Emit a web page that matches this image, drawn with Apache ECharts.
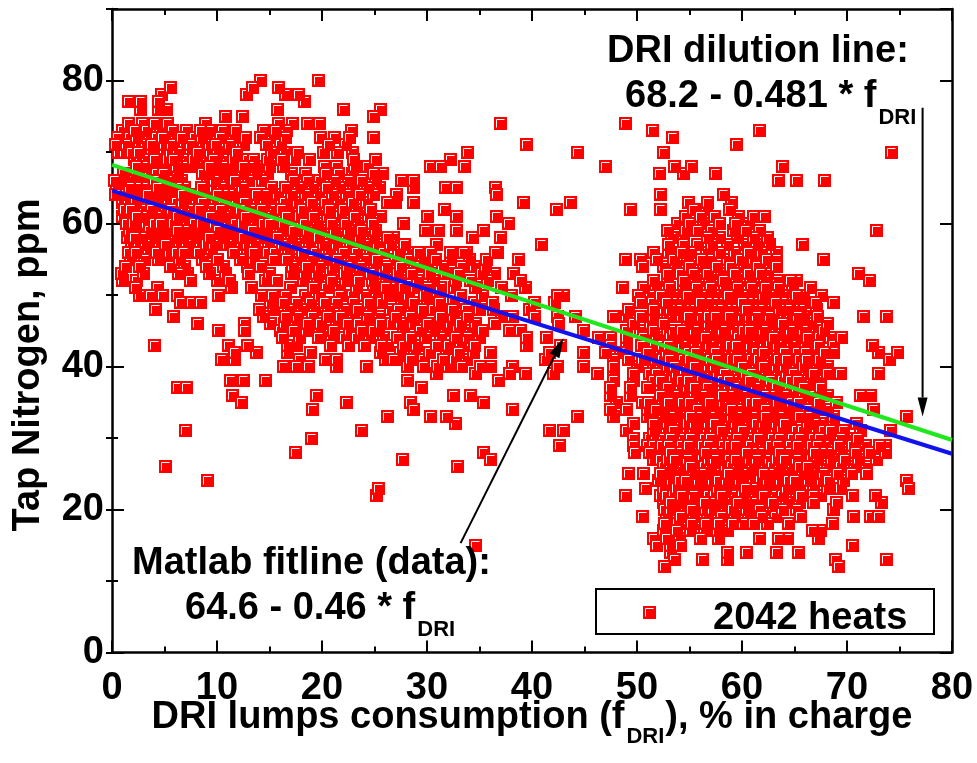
<!DOCTYPE html>
<html>
<head>
<meta charset="utf-8">
<script src="https://cdn.jsdelivr.net/npm/echarts@6/dist/echarts.min.js"></script>
<style>
  html, body { margin: 0; padding: 0; background: #ffffff; }
  #chart { width: 977px; height: 763px; }
</style>
</head>
<body>
<div id="chart"></div>
<script>
// Axis ranges and tick steps
const xRange = [0, 80];
const yRange = [0, 90];
const xStep = 10;
const yStep = 20;

// Tap nitrogen (ppm, whole numbers) per heat, grouped by ppm level: [ppm, [DRI % values]]
const leftHeats = [
  [80, [14.1, 19.7]],
  [79, [5.6, 13.4, 15.9]],
  [78, [4.7, 12.8, 16.5, 17.8]],
  [77, [1.6, 2.7, 4.4, 18.3]],
  [76, [2.7, 4.4, 5.2, 15.8, 22.0, 25.6]],
  [75, [10.8, 12.4, 24.9]],
  [74, [1.6, 2.9, 4.0, 5.3, 8.9, 15.9, 17.2, 18.6, 19.8]],
  [73, [1.0, 2.1, 3.3, 4.6, 5.8, 7.1, 8.4, 9.3, 10.5, 11.8, 14.4, 15.6, 16.6, 22.8]],
  [72, [0.5, 1.7, 2.9, 4.2, 5.3, 6.6, 7.9, 9.0, 10.3, 11.6, 12.7, 14.1, 15.3, 16.5, 19.9, 21.2, 22.6, 24.9]],
  [71, [0.3, 1.4, 2.6, 3.8, 5.0, 6.3, 7.5, 8.7, 9.9, 11.2, 12.5, 14.7, 16.0, 20.6, 22.2]],
  [70, [0.6, 1.9, 3.1, 4.4, 5.6, 6.9, 8.1, 9.4, 10.6, 11.9, 15.2, 16.4, 17.7, 20.1, 21.5, 22.9]],
  [69, [2.1, 3.3, 4.6, 5.9, 7.2, 8.5, 9.7, 11.0, 12.3, 13.5, 14.8, 16.1, 17.4, 18.8, 23.0, 25.1]],
  [68, [2.3, 3.6, 4.8, 6.1, 7.4, 8.7, 9.9, 11.2, 12.5, 13.8, 15.0, 16.3, 20.2, 21.4, 23.1, 24.3]],
  [67, [1.1, 2.3, 3.6, 4.9, 6.2, 8.6, 9.9, 11.1, 12.4, 13.7, 14.8, 17.1, 18.4, 20.3, 21.6, 22.9, 24.9, 25.8]],
  [66, [0.2, 1.4, 2.7, 4.0, 5.3, 6.6, 9.1, 10.4, 11.7, 13.0, 14.3, 17.3, 18.6, 19.8, 21.2, 22.5, 23.8, 25.1]],
  [65, [0.4, 1.7, 3.0, 4.3, 5.6, 6.9, 8.5, 9.8, 11.1, 12.4, 15.2, 16.5, 17.8, 19.1, 20.4, 21.7, 23.0, 24.3, 25.5]],
  [64, [0.3, 1.5, 2.8, 4.1, 5.4, 6.7, 8.0, 9.3, 10.6, 11.9, 13.2, 14.5, 15.8, 17.1, 18.4, 19.7, 21.0, 22.3, 23.6, 24.9]],
  [63, [1.0, 2.2, 3.5, 4.8, 6.1, 7.4, 8.6, 9.9, 11.3, 12.6, 13.9, 15.1, 16.4, 17.7, 19.0, 20.3, 21.6, 22.9, 24.2, 26.2]],
  [62, [1.2, 2.5, 3.8, 5.1, 6.4, 7.7, 9.0, 10.3, 11.6, 12.9, 14.2, 15.5, 16.8, 18.1, 19.4, 20.7, 22.0, 23.3, 24.6]],
  [61, [1.0, 2.3, 3.6, 4.9, 6.2, 7.5, 8.8, 10.1, 11.4, 12.7, 14.0, 15.3, 16.6, 17.9, 19.2, 20.5, 21.8, 23.1, 24.4, 25.6]],
  [60, [1.4, 2.7, 4.0, 5.3, 6.6, 7.9, 9.2, 10.5, 11.8, 13.1, 14.4, 15.7, 17.0, 18.3, 19.6, 20.9, 22.2, 23.5, 24.8]],
  [59, [1.7, 3.0, 4.3, 5.6, 6.9, 8.2, 9.5, 10.8, 12.1, 13.4, 14.7, 16.0, 17.3, 18.6, 19.9, 21.2, 22.5, 23.8, 25.1]],
  [58, [1.5, 2.8, 4.1, 5.4, 6.7, 8.0, 9.3, 10.6, 11.9, 13.2, 14.5, 15.8, 17.1, 18.4, 19.7, 21.0, 22.3, 23.6, 24.9, 26.2, 26.8]],
  [57, [1.9, 3.2, 4.5, 5.8, 7.1, 8.4, 9.7, 11.0, 12.3, 13.6, 14.9, 16.2, 17.5, 18.8, 20.1, 21.4, 22.7, 24.0, 25.3, 26.5]],
  [56, [1.6, 2.9, 4.2, 5.5, 6.8, 8.2, 9.5, 11.6, 12.9, 14.2, 15.5, 16.8, 18.1, 19.4, 20.7, 22.0, 23.3, 24.6, 25.9]],
  [55, [1.8, 3.1, 4.4, 5.2, 6.4, 8.6, 10.0, 12.2, 13.5, 15.4, 16.6, 17.8, 19.0, 20.2, 21.5, 22.8, 24.0, 25.2]],
  [54, [1.3, 2.6, 5.6, 6.9, 9.0, 10.6, 12.9, 14.1, 17.2, 18.5, 19.8, 21.1, 22.4, 23.7, 25.0, 26.1]],
  [53, [0.9, 3.0, 6.3, 7.2, 9.3, 10.8, 13.0, 15.0, 17.1, 18.3, 19.5, 20.8, 22.1, 23.4, 24.6, 25.9]],
  [52, [1.0, 2.3, 7.5, 10.0, 11.2, 14.6, 15.7, 18.2, 19.6, 20.9, 22.2, 23.5, 24.8, 26.1]],
  [51, [2.2, 4.3, 11.4, 13.3, 17.0, 19.2, 20.4, 21.7, 23.3, 24.9, 26.0, 26.5]],
  [50, [2.6, 3.7, 4.8, 6.2, 10.1, 14.2, 15.3, 16.5, 18.4, 19.8, 21.7, 22.9, 24.0, 25.2, 26.2]],
  [49, [6.5, 7.6, 8.4, 15.1, 16.3, 17.6, 18.9, 20.2, 21.4, 23.0, 24.4, 25.7]],
  [48, [4.1, 14.0, 15.4, 16.8, 18.0, 19.3, 20.6, 22.1, 23.4, 24.6, 26.5]],
  [47, [5.9, 14.4, 16.5, 17.7, 19.1, 20.5, 21.8, 23.0, 24.3, 25.5]],
  [46, [8.1, 12.6, 15.1, 16.4, 17.5, 18.6, 19.9, 21.4, 22.4, 23.5, 24.3, 25.6, 26.6]],
  [45, [10.1, 12.6, 16.0, 17.3, 18.5, 19.8, 21.1, 22.6, 23.8, 24.9, 25.4]],
  [44, [16.2, 17.9, 19.7, 20.9, 22.1, 23.3, 24.5, 25.9]],
  [43, [4.0, 11.1, 12.9, 16.7, 17.6, 20.8, 22.5, 24.0, 25.7, 26.2]],
  [42, [11.7, 13.8, 16.7, 18.9, 25.6]],
  [41, [10.4, 11.7, 17.9, 20.3, 21.4, 26.0, 26.8]],
  [40, [16.3, 17.6, 18.7, 21.4, 24.2]],
  [38, [11.3, 12.5, 14.6]],
  [37, [6.2, 7.1]],
  [36, [11.5, 19.5]],
  [35, [12.3, 22.3]],
  [34, [19.1]],
  [33, [26.2]],
  [31, [7.0, 23.8]],
  [30, [19.0]],
  [28, [17.5]],
  [26, [5.1]],
  [24, [9.1]],
  [23, [25.4]],
  [22, [25.2]]
];

// densest part of the low-DRI group
const leftCoreHeats = [
  [72, [1.1, 2.3, 3.6, 4.8, 6.0, 7.3, 8.5]],
  [71, [0.9, 2.0, 3.2, 4.4, 5.7, 6.9, 8.1, 9.3]],
  [70, [1.2, 2.5, 3.8, 5.0, 6.2, 7.5, 8.8, 10.0]],
  [69, [2.7, 4.0, 5.3, 6.5, 7.8, 9.1, 10.4, 11.6, 12.9]],
  [68, [3.0, 4.2, 5.5, 6.8, 8.0, 9.3, 10.6, 11.8, 13.1]],
  [67, [1.7, 3.0, 4.2, 5.5, 9.2, 10.5, 11.8]],
  [66, [0.8, 2.0, 3.3, 4.6, 5.9, 9.8, 11.0]],
  [65, [1.0, 2.3, 3.6, 4.9, 6.2, 9.1, 10.4, 16.8, 18.4]],
  [64, [0.9, 2.1, 3.4, 4.7, 6.0, 7.4, 8.6, 10.0, 11.2, 12.6, 13.8]],
  [63, [1.6, 2.9, 4.1, 5.4, 6.7, 8.0, 9.2, 10.6, 11.9, 13.2, 14.5, 17.0]],
  [62, [1.8, 3.1, 4.4, 5.7, 7.0, 8.3, 9.6, 10.9, 12.2, 13.5, 14.8, 16.1]],
  [61, [1.6, 2.9, 4.2, 5.5, 6.8, 8.1, 9.4, 10.7, 12.0, 13.3, 14.6, 18.5]],
  [60, [2.0, 3.3, 4.6, 5.9, 7.2, 8.5, 9.8, 11.1, 12.4, 13.7, 15.0, 16.3]],
  [59, [2.3, 3.6, 4.9, 6.2, 7.5, 8.8, 10.1, 11.4, 12.7, 14.0, 17.9]],
  [58, [2.1, 3.4, 4.7, 6.0, 7.3, 8.6, 9.9, 11.2, 12.5, 13.8, 15.1]],
  [57, [2.5, 3.8, 5.1, 6.4, 7.7, 9.0, 10.3, 11.6, 12.9, 16.8]],
  [56, [2.2, 3.5, 4.8, 6.1, 7.5, 13.5, 14.8]]
];

const middleHeats = [
  [74, [37.0]],
  [71, [39.5]],
  [70, [33.9, 44.3]],
  [69, [32.2]],
  [68, [30.3, 31.3, 33.6]],
  [66, [27.6, 28.7]],
  [65, [28.7, 31.8, 32.8, 36.5]],
  [64, [27.1, 36.6]],
  [63, [27.0, 28.7, 39.2, 43.7]],
  [62, [31.7, 42.3]],
  [61, [30.0, 32.8, 36.6]],
  [60, [27.8, 37.8]],
  [59, [29.9, 31.1, 32.8, 35.4]],
  [58, [34.3, 37.0]],
  [57, [27.9, 30.9, 40.9]],
  [56, [27.3, 28.4, 29.2, 30.3, 32.2, 33.5, 33.8, 36.5, 36.7]],
  [55, [27.0, 28.3, 29.6, 30.8, 32.2, 34.0, 35.7, 38.7]],
  [54, [27.5, 28.8, 30.0, 31.5, 33.3, 34.5, 35.6]],
  [53, [27.2, 28.5, 30.2, 31.8, 33.0, 35.2, 36.4, 38.2]],
  [52, [27.5, 29.1, 30.6, 32.7, 34.1, 35.8, 38.9]],
  [51, [27.8, 28.9, 30.0, 31.3, 32.6, 34.6, 37.1, 39.4]],
  [50, [27.0, 28.2, 29.8, 31.0, 33.2, 35.3, 38.0, 42.4, 43.0]],
  [49, [27.6, 28.7, 30.0, 31.2, 32.5, 34.5, 36.2, 40.2, 42.1]],
  [48, [27.3, 28.5, 29.6, 30.6, 31.3, 32.4, 33.8, 35.0, 36.3, 39.8]],
  [47, [27.0, 28.4, 29.4, 31.3, 32.5, 33.9, 37.1, 38.1, 40.2, 42.4, 44.1]],
  [46, [27.5, 28.7, 30.0, 31.0, 32.2, 33.2, 34.6, 36.4, 42.5]],
  [45, [27.8, 29.4, 30.6, 31.8, 32.9, 34.1, 35.3, 37.9, 38.9, 44.9]],
  [44, [27.2, 28.4, 29.9, 31.3, 32.7, 33.9, 35.0, 39.5, 41.4, 46.3]],
  [43, [27.8, 29.0, 30.9, 32.0, 33.2, 34.5, 39.5, 42.7]],
  [42, [27.5, 28.8, 30.2, 31.9, 33.0, 34.4, 36.0, 41.7, 44.9]],
  [41, [27.3, 28.4, 29.7, 31.6, 32.6, 33.8, 41.3]],
  [40, [28.1, 29.7, 31.0, 32.0, 33.3, 35.1, 36.0, 38.1, 42.4, 44.9]],
  [39, [30.9, 34.6, 37.9, 39.4, 42.0]],
  [38, [28.1, 36.8]],
  [37, [29.5]],
  [36, [32.5, 34.1]],
  [35, [28.4, 35.4]],
  [34, [28.7, 38.1]],
  [33, [30.3, 31.9, 44.3]],
  [32, [32.7]],
  [31, [41.7, 43.0]],
  [29, [42.6]],
  [28, [35.4]],
  [27, [27.7, 36.0]],
  [26, [32.9]],
  [15, [34.6]]
];

const rightHeats = [
  [74, [48.9]],
  [73, [51.5, 61.7]],
  [72, [53.4]],
  [71, [59.5]],
  [70, [52.5, 74.2]],
  [68, [47.0, 53.6, 55.2, 63.9]],
  [67, [52.1, 54.4, 57.5]],
  [66, [63.5, 65.2, 67.9]],
  [64, [52.2, 58.2]],
  [63, [54.9, 56.7, 59.0]],
  [62, [49.4, 52.2, 55.4, 56.6, 58.8]],
  [61, [54.6, 56.0, 57.4, 59.7, 61.1, 62.1]],
  [60, [53.9, 55.0, 56.3, 57.9, 59.4, 60.6]],
  [59, [52.9, 54.6, 55.8, 57.1, 59.2, 60.3, 61.7, 72.8]],
  [58, [53.3, 54.4, 56.7, 57.9, 59.6, 61.1, 62.4]],
  [57, [53.0, 54.4, 55.8, 57.1, 58.6, 60.2, 61.4, 62.6, 65.8]],
  [56, [51.6, 53.0, 54.2, 55.1, 56.6, 57.9, 59.3, 60.6, 61.9, 63.3]],
  [55, [48.9, 50.3, 51.9, 53.5, 54.8, 56.1, 57.0, 58.6, 59.9, 61.1, 62.3, 63.3, 67.8]],
  [54, [50.5, 52.5, 53.7, 55.0, 56.3, 57.6, 58.9, 60.2, 61.5, 62.7, 63.3]],
  [53, [52.9, 54.1, 55.4, 56.7, 58.0, 59.3, 60.6, 61.8, 62.4, 71.1]],
  [52, [51.6, 52.9, 54.4, 55.6, 56.9, 58.2, 59.5, 60.8, 62.1, 63.4, 64.6, 65.2, 72.1]],
  [51, [48.6, 50.6, 51.8, 53.1, 54.4, 55.7, 57.0, 58.3, 59.6, 60.9, 62.2, 63.5, 64.8, 66.5]],
  [50, [50.1, 51.3, 52.2, 53.5, 54.8, 56.1, 57.4, 58.7, 60.0, 61.3, 62.6, 63.9, 65.2, 65.9, 67.6]],
  [49, [50.3, 51.5, 52.8, 54.1, 55.4, 56.7, 58.0, 59.3, 60.6, 61.9, 63.2, 64.5, 65.8, 67.0, 68.7]],
  [48, [49.2, 51.6, 52.6, 53.9, 55.2, 56.5, 57.8, 59.1, 60.4, 61.7, 63.0, 64.3, 65.6, 67.1]],
  [47, [47.8, 49.0, 50.3, 51.6, 52.9, 54.2, 55.5, 56.8, 58.1, 59.4, 60.7, 62.0, 63.3, 64.6, 65.9, 67.2, 71.6, 73.8]],
  [46, [49.7, 51.3, 52.5, 54.8, 56.1, 57.4, 58.7, 60.0, 61.3, 62.6, 63.9, 65.2, 66.5, 68.1]],
  [45, [49.0, 50.3, 51.6, 52.9, 54.2, 55.5, 56.8, 58.1, 59.4, 60.7, 62.0, 63.3, 64.6, 65.9, 67.1, 67.8]],
  [44, [47.5, 49.0, 50.6, 51.9, 53.2, 54.5, 55.8, 57.1, 58.4, 59.7, 61.0, 62.3, 63.6, 64.9, 66.2, 67.4, 68.4, 69.5]],
  [43, [47.5, 49.0, 50.4, 51.7, 53.0, 54.3, 55.6, 56.9, 58.2, 59.5, 60.8, 62.1, 63.4, 64.7, 66.0, 67.3, 68.7, 72.4]],
  [42, [47.0, 48.4, 51.0, 52.2, 53.6, 54.9, 56.2, 57.5, 58.8, 60.1, 61.4, 62.7, 64.0, 65.3, 66.6, 67.9, 68.7, 73.0, 74.8]],
  [41, [47.8, 49.2, 50.5, 51.8, 53.1, 54.4, 55.7, 57.0, 58.3, 59.6, 60.9, 62.2, 63.5, 64.8, 66.1, 67.4, 74.0]],
  [40, [47.8, 50.0, 51.6, 52.9, 54.2, 55.5, 56.8, 58.1, 59.4, 60.7, 62.0, 63.3, 64.6, 65.9, 67.2, 68.1]],
  [39, [46.2, 47.8, 49.7, 51.2, 52.5, 53.8, 55.1, 56.4, 57.7, 59.0, 60.3, 61.6, 62.9, 64.2, 65.5, 66.8, 68.1, 69.4, 73.0]],
  [38, [47.8, 49.7, 51.6, 52.9, 54.2, 55.5, 56.8, 58.1, 59.4, 60.7, 62.0, 63.3, 64.6, 65.9, 67.5]],
  [37, [47.5, 49.4, 51.0, 52.2, 53.5, 54.8, 56.1, 57.4, 58.7, 60.0, 61.3, 62.6, 63.9, 65.2, 66.5, 67.5]],
  [36, [47.5, 49.4, 52.2, 53.6, 54.9, 56.2, 57.5, 58.8, 60.1, 61.4, 62.7, 64.0, 65.3, 66.6, 68.1, 71.3, 72.2]],
  [35, [48.0, 50.5, 51.7, 53.0, 54.3, 55.6, 56.9, 58.2, 59.5, 60.8, 62.1, 63.4, 64.7, 66.0, 67.3, 69.0]],
  [34, [47.5, 49.0, 51.0, 52.5, 53.8, 55.1, 56.4, 57.7, 59.0, 60.3, 61.6, 62.9, 64.2, 65.5, 66.8, 68.1, 72.5]],
  [33, [47.8, 51.0, 52.5, 53.8, 55.1, 56.4, 57.7, 59.0, 60.3, 61.6, 62.9, 64.2, 65.5, 66.8, 68.7, 75.7]],
  [32, [49.7, 51.6, 52.9, 54.2, 55.5, 56.8, 58.1, 59.4, 60.7, 62.0, 63.3, 64.6, 66.2, 67.5, 68.7, 70.9]],
  [31, [49.0, 51.6, 52.8, 54.1, 55.4, 56.7, 58.0, 59.3, 60.6, 61.9, 63.2, 64.5, 65.8, 67.1, 68.4, 69.7, 71.3, 74.1]],
  [30, [49.7, 51.2, 52.5, 53.8, 55.1, 56.4, 57.7, 59.0, 60.3, 61.6, 62.9, 64.2, 65.5, 66.8, 68.1, 69.4, 70.0, 71.0]],
  [29, [49.7, 51.0, 52.3, 53.6, 54.9, 56.2, 57.5, 58.8, 60.1, 61.4, 62.7, 64.0, 65.3, 66.6, 67.9, 69.2, 70.5, 71.8, 73.1, 73.7]],
  [28, [49.8, 51.2, 52.6, 53.9, 55.2, 56.5, 57.8, 59.1, 60.4, 61.7, 63.0, 64.3, 65.6, 66.9, 68.2, 69.5, 70.8, 72.1, 72.5, 73.7]],
  [27, [51.6, 52.9, 54.2, 55.5, 56.8, 58.1, 59.4, 60.7, 62.0, 63.3, 64.6, 65.9, 67.2, 68.5, 69.8, 71.1, 72.8]],
  [26, [52.5, 53.8, 55.1, 56.4, 57.7, 59.0, 60.3, 61.6, 62.9, 64.2, 65.5, 66.8, 68.1, 69.4, 70.7, 71.9]],
  [25, [49.2, 50.6, 52.2, 53.5, 54.8, 56.1, 57.4, 58.7, 60.0, 61.3, 62.6, 63.9, 65.2, 66.5, 67.8, 69.1, 70.4, 71.9]],
  [24, [52.0, 53.3, 54.6, 55.9, 57.2, 58.5, 59.8, 61.1, 62.4, 63.7, 65.0, 66.3, 67.6, 68.2, 69.7, 75.7]],
  [23, [50.8, 52.5, 53.8, 55.1, 56.4, 57.7, 59.0, 60.3, 61.6, 62.9, 64.2, 65.5, 66.8, 68.1, 69.4, 75.9]],
  [22, [48.9, 52.2, 53.5, 54.8, 56.1, 57.4, 58.7, 60.0, 61.3, 62.6, 63.9, 65.2, 65.6, 66.8, 67.5, 70.5, 72.7]],
  [21, [52.5, 53.8, 55.1, 56.4, 57.7, 59.0, 60.3, 61.6, 62.9, 64.2, 65.5, 66.8, 69.0, 73.3]],
  [20, [52.6, 53.9, 55.2, 56.5, 57.8, 59.1, 60.4, 60.8, 61.7, 63.0, 63.9, 65.2, 68.7]],
  [19, [50.5, 52.8, 54.1, 55.4, 56.7, 58.0, 59.3, 60.6, 61.9, 63.2, 65.6, 70.6, 72.2, 73.0]],
  [18, [52.6, 53.9, 55.2, 56.5, 57.8, 59.1, 60.1, 61.1, 62.4, 64.4, 68.6]],
  [17, [52.5, 53.8, 55.1, 56.4, 57.7, 58.6, 66.7, 67.5]],
  [16, [51.6, 52.8, 54.0, 56.0, 57.8, 61.7, 63.5, 64.3, 67.3]],
  [15, [51.9, 53.2, 54.1, 70.5]],
  [14, [53.2, 58.6, 60.4, 63.3, 65.4]],
  [13, [53.6, 56.2, 58.6, 68.9, 73.8]],
  [12, [52.6, 69.2]]
];

// densest part of the high-DRI group
const rightCoreHeats = [
  [50, [53.0, 54.2, 55.5, 56.7, 58.0, 59.4, 60.6, 62.0, 63.2, 64.5]],
  [49, [53.4, 54.8, 56.0, 57.3, 58.6, 60.0, 61.2, 62.5, 63.9, 65.1]],
  [48, [53.2, 54.5, 55.9, 57.1, 58.5, 59.7, 61.0, 62.4, 63.6, 64.9]],
  [47, [53.5, 54.9, 56.1, 57.5, 58.8, 60.0, 61.4, 62.6, 64.0, 65.3]],
  [46, [55.4, 56.8, 58.0, 59.3, 60.7, 61.9, 63.2, 64.6, 65.8]],
  [45, [53.5, 54.8, 56.2, 57.4, 58.8, 60.1, 61.3, 62.7, 63.9, 65.3]],
  [44, [52.6, 53.9, 55.1, 56.5, 57.8, 59.0, 60.4, 61.6, 63.0, 64.2, 65.6]],
  [43, [52.4, 53.6, 55.0, 56.3, 57.5, 58.9, 60.1, 61.5, 62.7, 64.1, 65.4]],
  [42, [52.8, 54.3, 55.6, 56.8, 58.2, 59.4, 60.8, 62.0, 63.4, 64.6, 66.0]],
  [41, [52.4, 53.8, 55.0, 56.4, 57.6, 59.0, 60.2, 61.6, 62.8, 64.2, 65.5]],
  [40, [52.2, 53.6, 54.8, 56.2, 57.4, 58.8, 60.0, 61.4, 62.6, 64.0, 65.2, 66.6]],
  [39, [51.9, 53.1, 54.5, 55.7, 57.1, 58.3, 59.7, 60.9, 62.3, 63.5, 64.9, 66.1, 67.4]],
  [38, [52.2, 53.5, 54.9, 56.1, 57.5, 58.7, 60.1, 61.3, 62.7, 63.9, 65.3, 66.6]],
  [37, [51.6, 52.9, 54.1, 55.5, 56.7, 58.1, 59.3, 60.7, 61.9, 63.3, 64.5, 65.9]],
  [36, [52.9, 54.2, 55.5, 56.9, 58.1, 59.5, 60.7, 62.1, 63.3, 64.7, 65.9, 67.3]],
  [35, [51.1, 52.4, 53.6, 55.0, 56.2, 57.6, 58.8, 60.2, 61.4, 62.8, 64.0, 65.4, 66.6]],
  [34, [51.8, 53.2, 54.4, 55.8, 57.0, 58.4, 59.6, 61.0, 62.2, 63.6, 64.8, 66.2, 67.4]],
  [33, [51.8, 53.2, 54.4, 55.8, 57.0, 58.4, 59.6, 61.0, 62.2, 63.6, 64.8, 66.2]],
  [32, [52.2, 53.6, 54.8, 56.2, 57.4, 58.8, 60.0, 61.4, 62.6, 64.0, 66.9]],
  [31, [52.2, 53.5, 54.8, 56.1, 57.4, 58.6, 60.0, 61.2, 62.6, 63.8, 65.2, 66.4, 67.8]],
  [30, [51.8, 53.2, 54.4, 55.8, 57.0, 58.4, 59.6, 61.0, 62.2, 63.6, 64.8, 66.2, 67.4]],
  [29, [51.6, 53.0, 54.2, 55.6, 56.8, 58.2, 59.4, 60.8, 62.0, 63.4, 64.6, 66.0, 67.2]],
  [28, [51.9, 53.2, 54.6, 55.8, 57.2, 58.4, 59.8, 61.0, 62.4, 63.6, 65.0, 66.2, 67.6]],
  [27, [52.2, 53.6, 54.8, 56.2, 57.4, 58.8, 60.0, 61.4, 62.6, 64.0, 65.2, 66.6]],
  [26, [53.2, 54.4, 55.8, 57.0, 58.4, 59.6, 61.0, 62.2, 63.6, 64.8, 66.2]],
  [25, [52.8, 54.2, 55.4, 56.8, 58.0, 59.4, 60.6, 62.0, 63.2, 64.6, 65.8]],
  [24, [52.6, 54.0, 55.2, 56.6, 57.8, 59.2, 60.4, 61.8, 63.0, 64.4, 65.6]],
  [23, [53.2, 54.4, 55.8, 57.0, 58.4, 59.6, 61.0, 62.2, 63.6, 64.8]],
  [22, [52.8, 54.2, 55.4, 56.8, 58.0, 59.4, 60.6, 62.0, 63.2]],
  [21, [53.2, 54.4, 55.8, 57.0, 58.4, 59.6, 61.0, 62.2]],
  [20, [53.2, 54.6, 55.8, 57.2, 58.4]]
];

// Trend lines: value at f = 0 and f = 80 of each equation
const dilutionLine = [[0, 68.2], [80, 29.72]];   // 68.2 - 0.481 * f
const fitLine = [[0, 64.6], [80, 27.8]];         // 64.6 - 0.46 * f

// Annotation arrows in data units: [tail, head]
const dilutionArrow = [[77.2, 76.2], [77.2, 33.0]];
const fitArrow = [[33.2, 15.3], [43.0, 44.0]];

const legendLabel = '2042 heats';

// ---------------------------------------------------------------------------
const FONT = '"Liberation Sans", Arial, Helvetica, sans-serif';
const MARK = 13;
const RED = '#ff0000';

// one point per heat, painted in an interleaved (not row-by-row) order
const heats = [];
[leftHeats, leftCoreHeats, middleHeats, rightHeats, rightCoreHeats].forEach(rows => {
  rows.forEach(([ppm, fs]) => fs.forEach(f => heats.push([f, ppm])));
});
const paintOrder = heats.map((p, i) => [(i * 0.6180339887) % 1, p]);
paintOrder.sort((a, b) => a[0] - b[0]);
const heatData = paintOrder.map(d => d[1]);

function markerParts(cx, cy) {
  const x0 = Math.round(cx - MARK / 2);
  const y0 = Math.round(cy - MARK / 2);
  return [
    { type: 'rect', shape: { x: x0, y: y0, width: MARK, height: MARK }, style: { fill: RED } },
    {
      type: 'polyline',
      shape: { points: [[x0 + 2.5, y0 + MARK - 2.5], [x0 + 2.5, y0 + 2.5], [x0 + MARK - 2.5, y0 + 2.5]] },
      style: { stroke: '#ffffff', lineWidth: 1, fill: null }
    }
  ];
}

function renderHeat(params, api) {
  const c = api.coord([api.value(0), api.value(1)]);
  return { type: 'group', children: markerParts(c[0], c[1]) };
}

const axisLine = { show: true, onZero: false, lineStyle: { color: '#000', width: 2.5 } };
const tickStyle = { color: '#000', width: 2 };
const labelStyle = { color: '#000', fontSize: 38, fontWeight: 'bold', fontFamily: FONT };

function xAxisDef(position, showLabels) {
  return {
    type: 'value', position, min: xRange[0], max: xRange[1], interval: xStep,
    axisLine,
    axisTick: { show: true, inside: true, length: 12, lineStyle: tickStyle },
    minorTick: { show: true, splitNumber: 2, length: 6, lineStyle: tickStyle },
    axisLabel: showLabels ? Object.assign({ margin: 17 }, labelStyle) : { show: false },
    splitLine: { show: false }, minorSplitLine: { show: false }
  };
}

function yAxisDef(position, interval, tickLen, showLine, showLabels) {
  return {
    type: 'value', position, min: yRange[0], max: yRange[1], interval,
    axisLine: showLine ? axisLine : { show: false },
    axisTick: { show: true, inside: true, length: tickLen, lineStyle: tickStyle },
    axisLabel: showLabels ? Object.assign({ margin: 8, showMaxLabel: false }, labelStyle) : { show: false },
    splitLine: { show: false }
  };
}

const chart = echarts.init(document.getElementById('chart'), null, { renderer: 'canvas' });

chart.setOption({
  animation: false,
  backgroundColor: '#ffffff',
  grid: { left: 112, right: 25, top: 9, bottom: 110.5, containLabel: false },
  xAxis: [xAxisDef('bottom', true), xAxisDef('top', false)],
  yAxis: [
    yAxisDef('left', yStep, 12, true, true),
    yAxisDef('left', yStep / 2, 6, false, false),
    yAxisDef('right', yStep, 12, true, false),
    yAxisDef('right', yStep / 2, 6, false, false)
  ],
  series: [
    {
      type: 'custom', name: legendLabel, data: heatData, renderItem: renderHeat,
      xAxisIndex: 0, yAxisIndex: 0, clip: false, progressive: 0, z: 2
    },
    {
      type: 'line', name: 'DRI dilution line', data: dilutionLine, symbol: 'none',
      xAxisIndex: 0, yAxisIndex: 0, lineStyle: { color: '#1fe81f', width: 4 }, z: 3
    },
    {
      type: 'line', name: 'Matlab fitline', data: fitLine, symbol: 'none',
      xAxisIndex: 0, yAxisIndex: 0, lineStyle: { color: '#1212ee', width: 4 }, z: 3
    }
  ]
});

// ---- text, arrows and legend box ----
const ctx = document.createElement('canvas').getContext('2d');
function measure(text, size) {
  ctx.font = `bold ${size}px ${FONT}`;
  return ctx.measureText(text).width;
}
function textEl(text, x, y, size, extra) {
  return Object.assign({
    type: 'text', x, y, z: 20,
    style: { text, fill: '#000', font: `bold ${size}px ${FONT}`, align: 'left', verticalAlign: 'middle' }
  }, extra || {});
}
// main text followed by a lowered subscript, optionally followed by more main text
function withSub(main, sub, tail, left, mid, size, subSize, drop) {
  const w1 = measure(main, size);
  const ws = measure(sub, subSize);
  const els = [textEl(main, left, mid, size), textEl(sub, left + w1 + 2, mid + drop, subSize)];
  if (tail) els.push(textEl(tail, left + w1 + 2 + ws + 1, mid, size));
  return els;
}
function subWidth(main, sub, tail, size, subSize) {
  return measure(main, size) + 2 + measure(sub, subSize) + 1 + (tail ? measure(tail, size) : 0);
}

function arrowEls(tail, head, headLen, headHalf) {
  const a = chart.convertToPixel({ gridIndex: 0 }, tail);
  const b = chart.convertToPixel({ gridIndex: 0 }, head);
  const dx = b[0] - a[0], dy = b[1] - a[1];
  const len = Math.hypot(dx, dy);
  const ux = dx / len, uy = dy / len;
  const bx = b[0] - ux * headLen, by = b[1] - uy * headLen;
  return [
    { type: 'line', z: 15, shape: { x1: a[0], y1: a[1], x2: bx, y2: by }, style: { stroke: '#000', lineWidth: 2 } },
    {
      type: 'polygon', z: 15,
      shape: { points: [[b[0], b[1]], [bx - uy * headHalf, by + ux * headHalf], [bx + uy * headHalf, by - ux * headHalf]] },
      style: { fill: '#000' }
    }
  ];
}

const xTitleMain = 'DRI lumps consumption (f';
const xTitleTail = '), % in charge';
const xTitleW = subWidth(xTitleMain, 'DRI', xTitleTail, 38, 22);

const legendParts = markerParts(649, 612).map(p => Object.assign({ z: 21 }, p));

chart.setOption({
  graphic: [
    // axis titles
    ...withSub(xTitleMain, 'DRI', xTitleTail, 532 - xTitleW / 2, 718, 38, 22, 19),
    textEl('Tap Nitrogen, ppm', 29, 365, 38, { rotation: Math.PI / 2, style: {
      text: 'Tap Nitrogen, ppm', fill: '#000', font: `bold 38px ${FONT}`, align: 'center', verticalAlign: 'middle' } }),
    // dilution line annotation
    textEl('DRI dilution line:', 607, 51.5, 38),
    ...withSub('68.2 - 0.481 * f', 'DRI', null, 625, 97, 38, 22, 20.5),
    // fitted line annotation
    textEl('Matlab fitline (data):', 132, 564, 38),
    ...withSub('64.6 - 0.46 * f', 'DRI', null, 185, 609, 38, 22, 20.5),
    // arrows
    ...arrowEls(dilutionArrow[0], dilutionArrow[1], 19, 5),
    ...arrowEls(fitArrow[0], fitArrow[1], 20, 5.5),
    // legend
    { type: 'rect', z: 20, shape: { x: 596, y: 589, width: 338, height: 45 }, style: { fill: '#fff', stroke: '#000', lineWidth: 2 } },
    ...legendParts,
    textEl(legendLabel, 713, 619, 38)
  ]
});
</script>
</body>
</html>
